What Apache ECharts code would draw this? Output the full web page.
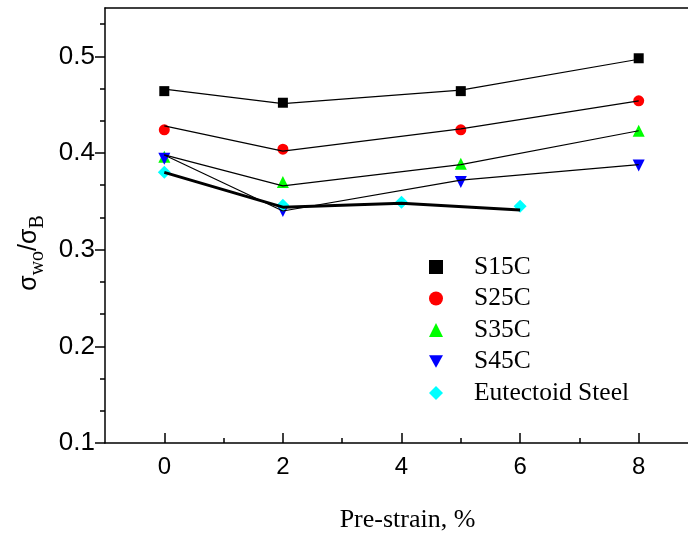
<!DOCTYPE html>
<html>
<head>
<meta charset="utf-8">
<script src="https://cdn.jsdelivr.net/npm/echarts@6/dist/echarts.min.js"></script>
<style>
  html, body { margin: 0; padding: 0; background: #fff; }
  #chart { width: 688px; height: 540px; }
</style>
</head>
<body>
<div id="chart"></div>
<script>
// pre-strain (%) positions
const strainSteel = [0, 2, 5, 8];
const strainEut = [0, 2, 4, 6];

// measured points
const s15c = [0.464, 0.452, 0.464, 0.498];
const s25c = [0.424, 0.404, 0.424, 0.454];
const s35c = [0.396, 0.370, 0.389, 0.423];
const s45c = [0.394, 0.340, 0.370, 0.387];
const eutectoid = [0.380, 0.346, 0.349, 0.345];

// drawn trend lines (slightly off the markers in the original)
const s15cLine = [0.466, 0.451, 0.465, 0.497];
const s25cLine = [0.428, 0.402, 0.425, 0.454];
const s35cLine = [0.398, 0.366, 0.388, 0.423];
const s45cLine = [0.398, 0.340, 0.372, 0.388];
const eutLine = [0.380, 0.344, 0.348, 0.341];

const xTicks = [0, 2, 4, 6, 8];
const xMinor = [1, 3, 5, 7];
const yTicks = [0.1, 0.2, 0.3, 0.4, 0.5];
const yMinor = [];
yTicks.forEach(v => { yMinor.push(+(v + 0.1 / 3).toFixed(4), +(v + 0.2 / 3).toFixed(4)); });

const pairs = (xs, ys) => xs.map((x, i) => [x, ys[i]]);

const chart = echarts.init(document.getElementById('chart'));

const sans = 'Liberation Sans, Arial';
const serif = 'Liberation Serif, Times New Roman';
const tickStyle = { color: '#000', width: 1.5 };
const plotW = 593;

function scatter(name, xs, ys, symbol, size, color) {
  return {
    name: name, type: 'scatter', data: pairs(xs, ys),
    symbol: symbol, symbolSize: size,
    itemStyle: { color: color, opacity: 1 }, z: 2
  };
}
function trend(xs, ys, width) {
  return {
    type: 'line', data: pairs(xs, ys), showSymbol: false, symbol: 'none',
    lineStyle: { color: '#000', width: width }, z: 3, silent: true
  };
}
// extra axis shifted onto the left frame, only for the tick marks
function yTickAxis(values, len) {
  return {
    type: 'value', min: 0.1, max: 0.55, position: 'right', offset: -plotW,
    axisLine: { show: false, onZero: false },
    axisTick: { show: true, inside: true, length: len, lineStyle: tickStyle, customValues: values },
    axisLabel: { show: false, customValues: values },
    splitLine: { show: false }
  };
}

const downTri = 'path://M0,0 L10,0 L5,9 Z';

chart.setOption({
  animation: false,
  grid: { left: 105, top: 8, width: plotW, height: 435, outerBoundsMode: 'none' },
  legend: {
    orient: 'vertical', left: 424, top: 249,
    itemWidth: 14, itemHeight: 14, itemGap: 5.5,
    selectedMode: false,
    textStyle: { color: '#000', fontSize: 25.5, lineHeight: 25, fontFamily: serif, padding: [0, 0, 0, 26] },
    data: [
      { name: 'S15C', icon: 'rect' },
      { name: 'S25C', icon: 'circle' },
      { name: 'S35C', icon: 'triangle' },
      { name: 'S45C', icon: downTri },
      { name: 'Eutectoid Steel', icon: 'diamond' }
    ]
  },
  xAxis: [{
    type: 'value', min: -1, max: 9,
    name: 'Pre-strain, %', nameLocation: 'middle', nameGap: 64,
    nameTextStyle: { color: '#000', fontSize: 26, fontFamily: serif, padding: [0, 0, 0, 12] },
    axisLine: { show: true, onZero: false, lineStyle: tickStyle },
    axisTick: { show: true, inside: true, length: 10, lineStyle: tickStyle, customValues: xTicks },
    axisLabel: { margin: 12, customValues: xTicks, color: '#000', fontSize: 24, fontFamily: sans },
    splitLine: { show: false }
  }, {
    type: 'value', min: -1, max: 9, position: 'bottom',
    axisLine: { show: false, onZero: false },
    axisTick: { show: true, inside: true, length: 5, lineStyle: tickStyle, customValues: xMinor },
    axisLabel: { show: false, customValues: xMinor },
    splitLine: { show: false }
  }, {
    // top frame line
    type: 'value', min: -1, max: 9, position: 'top',
    axisLine: { show: true, onZero: false, lineStyle: tickStyle },
    axisTick: { show: false },
    axisLabel: { show: false },
    splitLine: { show: false }
  }],
  yAxis: [{
    type: 'value', min: 0.1, max: 0.55, interval: 0.1, position: 'left',
    axisLine: { show: true, onZero: false, lineStyle: tickStyle },
    axisTick: { show: false },
    axisLabel: { margin: 10, showMaxLabel: false, formatter: v => v.toFixed(1), color: '#000', fontSize: 26, fontFamily: sans },
    splitLine: { show: false }
  },
    yTickAxis(yTicks, 10),
    yTickAxis(yMinor, 5)
  ],
  graphic: [{
    type: 'text', x: 27, y: 253, rotation: Math.PI / 2,
    style: {
      text: '{s|σ}{b|wo}{s|/σ}{b|B}',
      align: 'center', verticalAlign: 'middle',
      rich: {
        s: { fontSize: 25, fontFamily: sans, fill: '#000', verticalAlign: 'bottom', lineHeight: 30 },
        b: { fontSize: 20, fontFamily: serif, fill: '#000', verticalAlign: 'bottom', lineHeight: 30, padding: [0, 0, -6, 0] }
      }
    }
  }],
  series: [
    scatter('S15C', strainSteel, s15c, 'rect', 10, '#000000'),
    scatter('S25C', strainSteel, s25c, 'circle', 11, '#ff0000'),
    scatter('S35C', strainSteel, s35c, 'triangle', 12, '#00ff00'),
    scatter('S45C', strainSteel, s45c, downTri, 12, '#0000ff'),
    scatter('Eutectoid Steel', strainEut, eutectoid, 'diamond', 13, '#00ffff'),
    trend(strainSteel, s15cLine, 1.2),
    trend(strainSteel, s25cLine, 1.2),
    trend(strainSteel, s35cLine, 1.2),
    trend(strainSteel, s45cLine, 1.2),
    trend(strainEut, eutLine, 3)
  ]
});
</script>
</body>
</html>
